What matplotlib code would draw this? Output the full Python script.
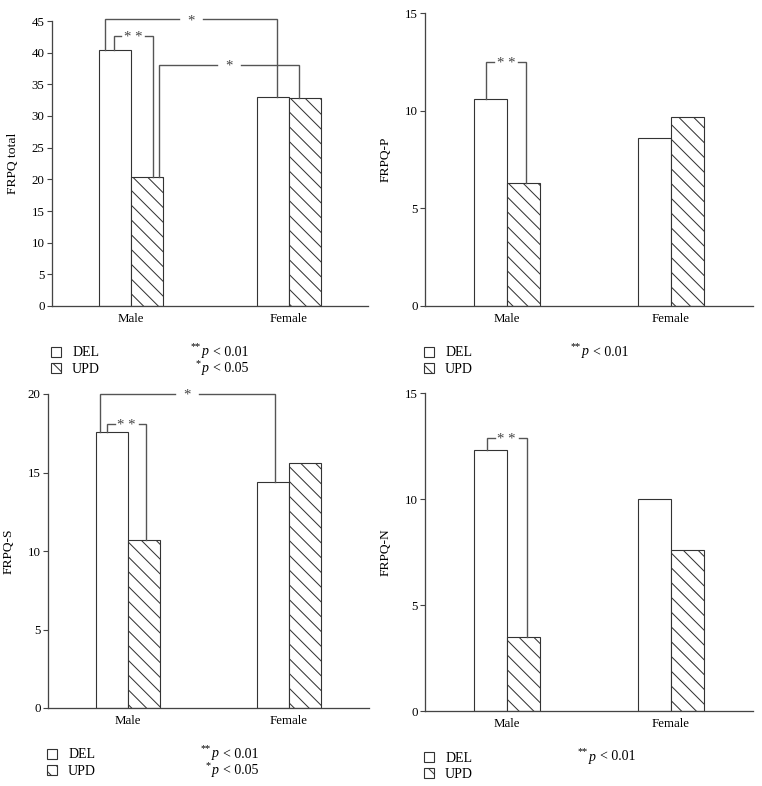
import matplotlib
matplotlib.use('Agg')
import matplotlib.pyplot as plt
import numpy as np

# FRPQ scores, DEL vs UPD, split by sex
groups = ['Male', 'Female']
series = ['DEL', 'UPD']
ylabels = ['FRPQ total', 'FRPQ-P', 'FRPQ-S', 'FRPQ-N']
ymax = [45, 15, 20, 15]
ystep = [5, 5, 5, 5]

del_vals = [[40.5, 33.0], [10.6, 8.6], [17.6, 14.4], [12.3, 10.0]]
upd_vals = [[20.4, 32.8], [6.3, 9.7], [10.7, 15.6], [3.5, 7.6]]

# p-value notes under each panel: (stars, threshold)
p_notes = [[('**', '< 0.01'), ('*', '< 0.05')],
           [('**', '< 0.01')],
           [('**', '< 0.01'), ('*', '< 0.05')],
           [('**', '< 0.01')]]

# significance brackets: label, (group, series) left end, (group, series) right end, x left, x right, y of bar
brackets = [
    [('*', (0, 0), (1, 0), -0.162, 0.924, 45.3),
     ('* *', (0, 0), (0, 1), -0.107, 0.137, 42.7),
     ('*', (0, 1), (1, 1), 0.179, 1.063, 38.1)],
    [('* *', (0, 0), (0, 1), -0.128, 0.116, 12.5)],
    [('*', (0, 0), (1, 0), -0.177, 0.912, 20.0),
     ('* *', (0, 0), (0, 1), -0.131, 0.112, 18.1)],
    [('* *', (0, 0), (0, 1), -0.124, 0.120, 12.9)],
]

##################################################################
# STYLE
##################################################################
DPI = 133
plt.rcParams['font.family'] = ['Liberation Serif', 'DejaVu Serif']
plt.rcParams['hatch.linewidth'] = 0.55
plt.rcParams['hatch.color'] = '#333333'

fig = plt.figure(figsize=(762 / DPI, 786 / DPI), dpi=DPI)

W, H = 762.0, 786.0
# axes boxes in pixels: left, right, top, bottom
boxes = [(52, 368, 21, 306), (425, 753, 13, 306),
         (48, 369, 394, 708), (425, 753, 393, 711)]
# left edge of the p-value notes, pixels
note_x = [190, 570, 200, 577]

edge = '#333333'
line_c = '#555555'
bw = 0.2
x = np.arange(len(groups))

for i in range(4):
    l, r, t, b = boxes[i]
    ax = fig.add_axes([l / W, 1 - b / H, (r - l) / W, (b - t) / H])
    pw = r - l
    ph = b - t

    b1 = ax.bar(x - bw / 2, del_vals[i], bw, color='white', edgecolor=edge,
                linewidth=0.6, label=series[0])
    b2 = ax.bar(x + bw / 2, upd_vals[i], bw, color='white', edgecolor=edge,
                linewidth=0.6, hatch='\\\\\\', label=series[1])

    ax.set_xlim(-0.5, 1.5)
    ax.set_ylim(0, ymax[i])
    ax.set_yticks(np.arange(0, ymax[i] + 0.1, ystep[i]))
    ax.set_xticks(x)
    ax.set_xticklabels(groups, fontsize=7)
    ax.tick_params(axis='x', length=0, pad=4)
    ax.tick_params(axis='y', length=2.5, width=0.6, pad=1.5, labelsize=7,
                   color='#444444', direction='out')
    for s in ['top', 'right']:
        ax.spines[s].set_visible(False)
    for s in ['left', 'bottom']:
        ax.spines[s].set_linewidth(0.7)
        ax.spines[s].set_color('#444444')
    ax.set_ylabel(ylabels[i], fontsize=7.3)
    ax.yaxis.set_label_coords(-33.0 / pw, 0.5)

    vals = [del_vals[i], upd_vals[i]]
    upp = 2.0 / pw  # data units per pixel in x
    for lab, e1, e2, x1, x2, y in brackets[i]:
        y1 = vals[e1[1]][e1[0]]
        y2 = vals[e2[1]][e2[0]]
        xm = (x1 + x2) / 2
        gap = 12 * upp
        kw = dict(color=line_c, lw=0.75, clip_on=False, solid_joinstyle='miter')
        ax.plot([x1, x1, xm - gap], [y1, y, y], **kw)
        ax.plot([xm + gap, x2, x2], [y, y, y2], **kw)
        ax.text(xm, y - 1.5 * ymax[i] / ph, lab, ha='center', va='center',
                fontsize=8, color='#444444')

    ax.legend(handles=[b1, b2], labels=series, loc='upper left',
              bbox_to_anchor=(-1.0 / pw, -40.5 / ph), frameon=False,
              handlelength=0.72, handleheight=0.72, handletextpad=0.8,
              labelspacing=0.25, borderpad=0, borderaxespad=0, fontsize=7.5)

    px = (note_x[i] - l) / pw
    for k, (stars, thr) in enumerate(p_notes[i]):
        py = -(49.5 + 16.5 * k) / ph
        ax.annotate(stars, xy=(px, py), xycoords='axes fraction',
                    xytext=(5.8, 3.2), textcoords='offset points',
                    ha='right', va='baseline', fontsize=5.5)
        ax.annotate('p', xy=(px, py), xycoords='axes fraction',
                    xytext=(6.5, 0), textcoords='offset points',
                    ha='left', va='baseline', fontsize=7.5, style='italic')
        ax.annotate(thr, xy=(px, py), xycoords='axes fraction',
                    xytext=(12.6, 0), textcoords='offset points',
                    ha='left', va='baseline', fontsize=7.5)

fig.savefig('out.png', dpi=DPI)
